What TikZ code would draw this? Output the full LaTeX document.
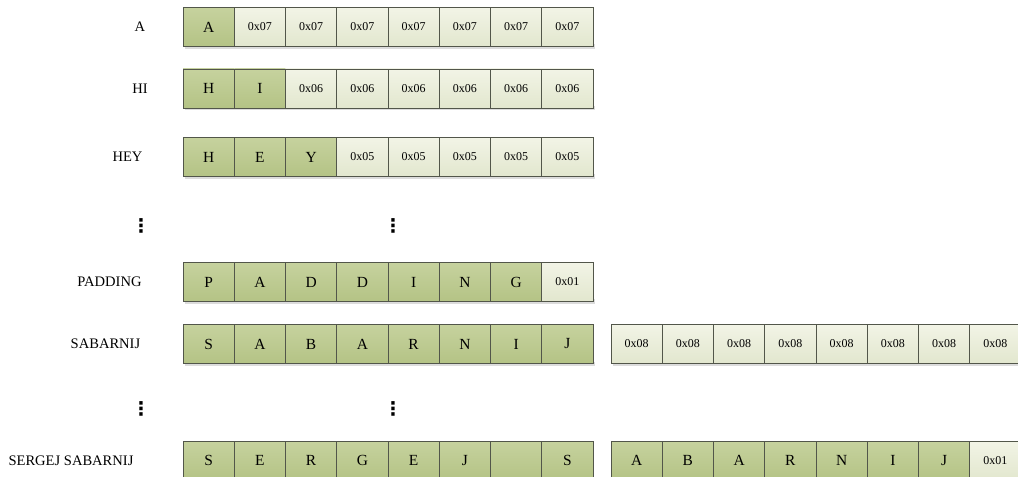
\documentclass[tikz,border=0pt]{standalone}
\usepackage{fontspec}
\setmainfont{Liberation Serif}
\newfontfamily\symfont{DejaVu Sans}
\definecolor{dtop}{HTML}{C6D29E}
\definecolor{dbot}{HTML}{B4C385}
\definecolor{ltop}{HTML}{F2F4E6}
\definecolor{lbot}{HTML}{E2E7CE}
\definecolor{edge}{HTML}{52564A}
\definecolor{shade}{HTML}{DCDCDC}
\tikzset{
  cellbase/.style={draw=edge, line width=0.9bp, minimum width=51.25bp, minimum height=39bp,
    inner sep=0pt, outer sep=0pt, text=black},
  dcell/.style={cellbase, top color=dtop, bottom color=dbot, font=\fontsize{15.5}{17}\selectfont},
  lcell/.style={cellbase, top color=ltop, bottom color=lbot, font=\fontsize{12}{14}\selectfont},
  rowlabel/.style={font=\fontsize{14.6}{17}\selectfont, text=black, inner sep=0pt},
  vd/.style={font=\symfont\bfseries\fontsize{19}{20}\selectfont, inner sep=0pt},
  shadowbar/.style={fill=shade, draw=none}
}
\begin{document}
\begin{tikzpicture}[x=1bp,y=-1bp]
\useasboundingbox (0,0) rectangle (1018,477);
\clip (0,0) rectangle (1018,477);
% shadows
\foreach \y in {27,88.5,157,282,344,460.5} {
  \fill[shadowbar] (184.5,\y+19.5-2) rectangle (595,\y+22);
}
\fill[shadowbar] (612.5,344+19.5-2) rectangle (1023,344+22);
\fill[shadowbar] (612.5,460.5+19.5-2) rectangle (1023,460.5+22);
% labels
\node[rowlabel] (lA) at (140,27) {A};
\node[rowlabel] (lHI) at (140,88.5) {HI};
\node[rowlabel] (lHEY) at (127.5,157) {HEY};
\node[rowlabel] (lPAD) at (109.5,282) {PADDING};
\node[rowlabel] (lSAB) at (105.5,344) {SABARNIJ};
\node[rowlabel] (lSER) at (71,460.5) {SERGEJ SABARNIJ};
% rows
\foreach \s/\t [count=\i from 0] in {dcell/A,lcell/0x07,lcell/0x07,lcell/0x07,lcell/0x07,lcell/0x07,lcell/0x07,lcell/0x07}
  \node[\s] (a\i) at ({208.625+\i*51.25},27) {\t};
\foreach \s/\t [count=\i from 0] in {dcell/H,dcell/I,lcell/0x06,lcell/0x06,lcell/0x06,lcell/0x06,lcell/0x06,lcell/0x06}
  \node[\s] (h\i) at ({208.625+\i*51.25},88.5) {\t};
\foreach \s/\t [count=\i from 0] in {dcell/H,dcell/E,dcell/Y,lcell/0x05,lcell/0x05,lcell/0x05,lcell/0x05,lcell/0x05}
  \node[\s] (y\i) at ({208.625+\i*51.25},157) {\t};
\foreach \s/\t [count=\i from 0] in {dcell/P,dcell/A,dcell/D,dcell/D,dcell/I,dcell/N,dcell/G,lcell/0x01}
  \node[\s] (p\i) at ({208.625+\i*51.25},282) {\t};
\foreach \s/\t [count=\i from 0] in {dcell/S,dcell/A,dcell/B,dcell/A,dcell/R,dcell/N,dcell/I,dcell/J}
  \node[\s] (s\i) at ({208.625+\i*51.25},344) {\t};
\foreach \s/\t [count=\i from 0] in {lcell/0x08,lcell/0x08,lcell/0x08,lcell/0x08,lcell/0x08,lcell/0x08,lcell/0x08,lcell/0x08}
  \node[\s] (t\i) at ({636.625+\i*51.25},344) {\t};
\foreach \s/\t [count=\i from 0] in {dcell/S,dcell/E,dcell/R,dcell/G,dcell/E,dcell/J,dcell/{},dcell/S}
  \node[\s] (g\i) at ({208.625+\i*51.25},460.5) {\t};
\foreach \s/\t [count=\i from 0] in {dcell/A,dcell/B,dcell/A,dcell/R,dcell/N,dcell/I,dcell/J,lcell/0x01}
  \node[\s] (k\i) at ({636.625+\i*51.25},460.5) {\t};
% vertical dots
\node[vd] (d1) at (141,226) {⋮};
\node[vd] (d2) at (393,226) {⋮};
\node[vd] (d3) at (141,409) {⋮};
\node[vd] (d4) at (393,409) {⋮};
\end{tikzpicture}
\end{document}
